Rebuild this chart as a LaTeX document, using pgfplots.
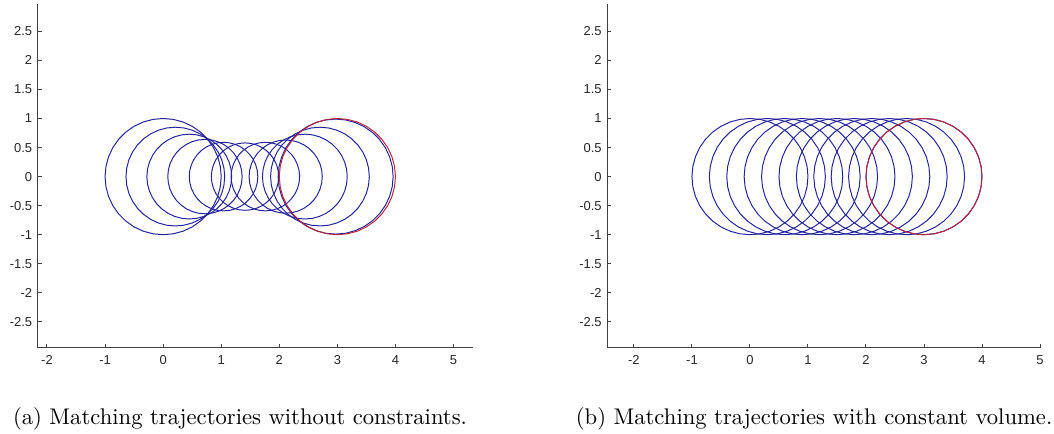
\documentclass[border=0pt]{standalone}
\usepackage{fontspec}
\usepackage{pgfplots}
\usepackage{pgfplotstable}
\pgfplotsset{compat=1.18}
\newfontfamily\ticksf{Liberation Sans}

\definecolor{trajblue}{RGB}{35,35,155}
\definecolor{targetred}{RGB}{185,35,60}

% unit circle, 10 degree steps; each shape below is this table scaled and shifted
\pgfplotstableread{
x y
1.0000 0.0000
0.9848 0.1736
0.9397 0.3420
0.8660 0.5000
0.7660 0.6428
0.6428 0.7660
0.5000 0.8660
0.3420 0.9397
0.1736 0.9848
0.0000 1.0000
-0.1736 0.9848
-0.3420 0.9397
-0.5000 0.8660
-0.6428 0.7660
-0.7660 0.6428
-0.8660 0.5000
-0.9397 0.3420
-0.9848 0.1736
-1.0000 0.0000
-0.9848 -0.1736
-0.9397 -0.3420
-0.8660 -0.5000
-0.7660 -0.6428
-0.6428 -0.7660
-0.5000 -0.8660
-0.3420 -0.9397
-0.1736 -0.9848
0.0000 -1.0000
0.1736 -0.9848
0.3420 -0.9397
0.5000 -0.8660
0.6428 -0.7660
0.7660 -0.6428
0.8660 -0.5000
0.9397 -0.3420
0.9848 -0.1736
1.0000 0.0000
}\unitcircle

\pgfplotsset{
  panel/.style={
    scale only axis,
    height=156.5pt,
    ymin=-2.95, ymax=2.97,
    axis x line*=bottom,
    axis y line*=left,
    axis line style={black!75, line width=0.45pt, -},
    tick align=inside,
    major tick length=1.8pt,
    tick style={black!75, line width=0.45pt},
    xtick={-2,-1,0,1,2,3,4,5},
    ytick={-2.5,-2,-1.5,-1,-0.5,0,0.5,1,1.5,2,2.5},
    /pgf/number format/assume math mode=true,
    ticklabel style={font=\ticksf\fontsize{5.9}{7}\selectfont, text=black!85},
    yticklabel style={xshift=1pt},
    clip=false,
  },
  traj/.style={trajblue, line width=0.45pt, no marks},
  target/.style={targetred, line width=0.45pt, no marks},
}

\begin{document}
\begin{tikzpicture}
\useasboundingbox (0,0) rectangle (479.57pt,197.47pt);

% (a) no constraint: centre c, radius r
\begin{axis}[panel, at={(17.15pt,39.13pt)}, anchor=south west,
  width=198.2pt, xmin=-2.16, xmax=5.34]
\addplot[traj] table[x expr=\thisrow{x}*1.00+0.00, y expr=\thisrow{y}*1.00] {\unitcircle};
\addplot[traj] table[x expr=\thisrow{x}*0.85+0.21, y expr=\thisrow{y}*0.85] {\unitcircle};
\addplot[traj] table[x expr=\thisrow{x}*0.73+0.45, y expr=\thisrow{y}*0.73] {\unitcircle};
\addplot[traj] table[x expr=\thisrow{x}*0.64+0.72, y expr=\thisrow{y}*0.64] {\unitcircle};
\addplot[traj] table[x expr=\thisrow{x}*0.59+1.04, y expr=\thisrow{y}*0.59] {\unitcircle};
\addplot[traj] table[x expr=\thisrow{x}*0.58+1.41, y expr=\thisrow{y}*0.58] {\unitcircle};
\addplot[traj] table[x expr=\thisrow{x}*0.59+1.76, y expr=\thisrow{y}*0.59] {\unitcircle};
\addplot[traj] table[x expr=\thisrow{x}*0.63+2.11, y expr=\thisrow{y}*0.63] {\unitcircle};
\addplot[traj] table[x expr=\thisrow{x}*0.73+2.44, y expr=\thisrow{y}*0.73] {\unitcircle};
\addplot[traj] table[x expr=\thisrow{x}*0.85+2.70, y expr=\thisrow{y}*0.85] {\unitcircle};
\addplot[traj] table[x expr=\thisrow{x}*0.99+2.97, y expr=\thisrow{y}*0.99] {\unitcircle};
\addplot[target] table[x expr=\thisrow{x}*1.00+3.00, y expr=\thisrow{y}*1.00] {\unitcircle};
\end{axis}

% (b) constant volume
\begin{axis}[panel, at={(276.3pt,39.13pt)}, anchor=south west,
  width=196.9pt, xmin=-2.46, xmax=5.0]
\addplot[traj] table[x expr=\thisrow{x}+0.0, y expr=\thisrow{y}] {\unitcircle};
\addplot[traj] table[x expr=\thisrow{x}+0.3, y expr=\thisrow{y}] {\unitcircle};
\addplot[traj] table[x expr=\thisrow{x}+0.6, y expr=\thisrow{y}] {\unitcircle};
\addplot[traj] table[x expr=\thisrow{x}+0.9, y expr=\thisrow{y}] {\unitcircle};
\addplot[traj] table[x expr=\thisrow{x}+1.2, y expr=\thisrow{y}] {\unitcircle};
\addplot[traj] table[x expr=\thisrow{x}+1.5, y expr=\thisrow{y}] {\unitcircle};
\addplot[traj] table[x expr=\thisrow{x}+1.8, y expr=\thisrow{y}] {\unitcircle};
\addplot[traj] table[x expr=\thisrow{x}+2.1, y expr=\thisrow{y}] {\unitcircle};
\addplot[traj] table[x expr=\thisrow{x}+2.4, y expr=\thisrow{y}] {\unitcircle};
\addplot[traj] table[x expr=\thisrow{x}+2.7, y expr=\thisrow{y}] {\unitcircle};
\addplot[traj] table[x expr=\thisrow{x}+3.0, y expr=\thisrow{y}] {\unitcircle};
\addplot[target] table[x expr=\thisrow{x}+3.0, y expr=\thisrow{y}] {\unitcircle};
\end{axis}

\node[anchor=base, font=\fontsize{10.3}{12}\selectfont] at (109.2pt,4.1pt) {(a) Matching trajectories without constraints.};
\node[anchor=base, font=\fontsize{10.3}{12}\selectfont] at (370.4pt,4.1pt) {(b) Matching trajectories with constant volume.};
\end{tikzpicture}
\end{document}
